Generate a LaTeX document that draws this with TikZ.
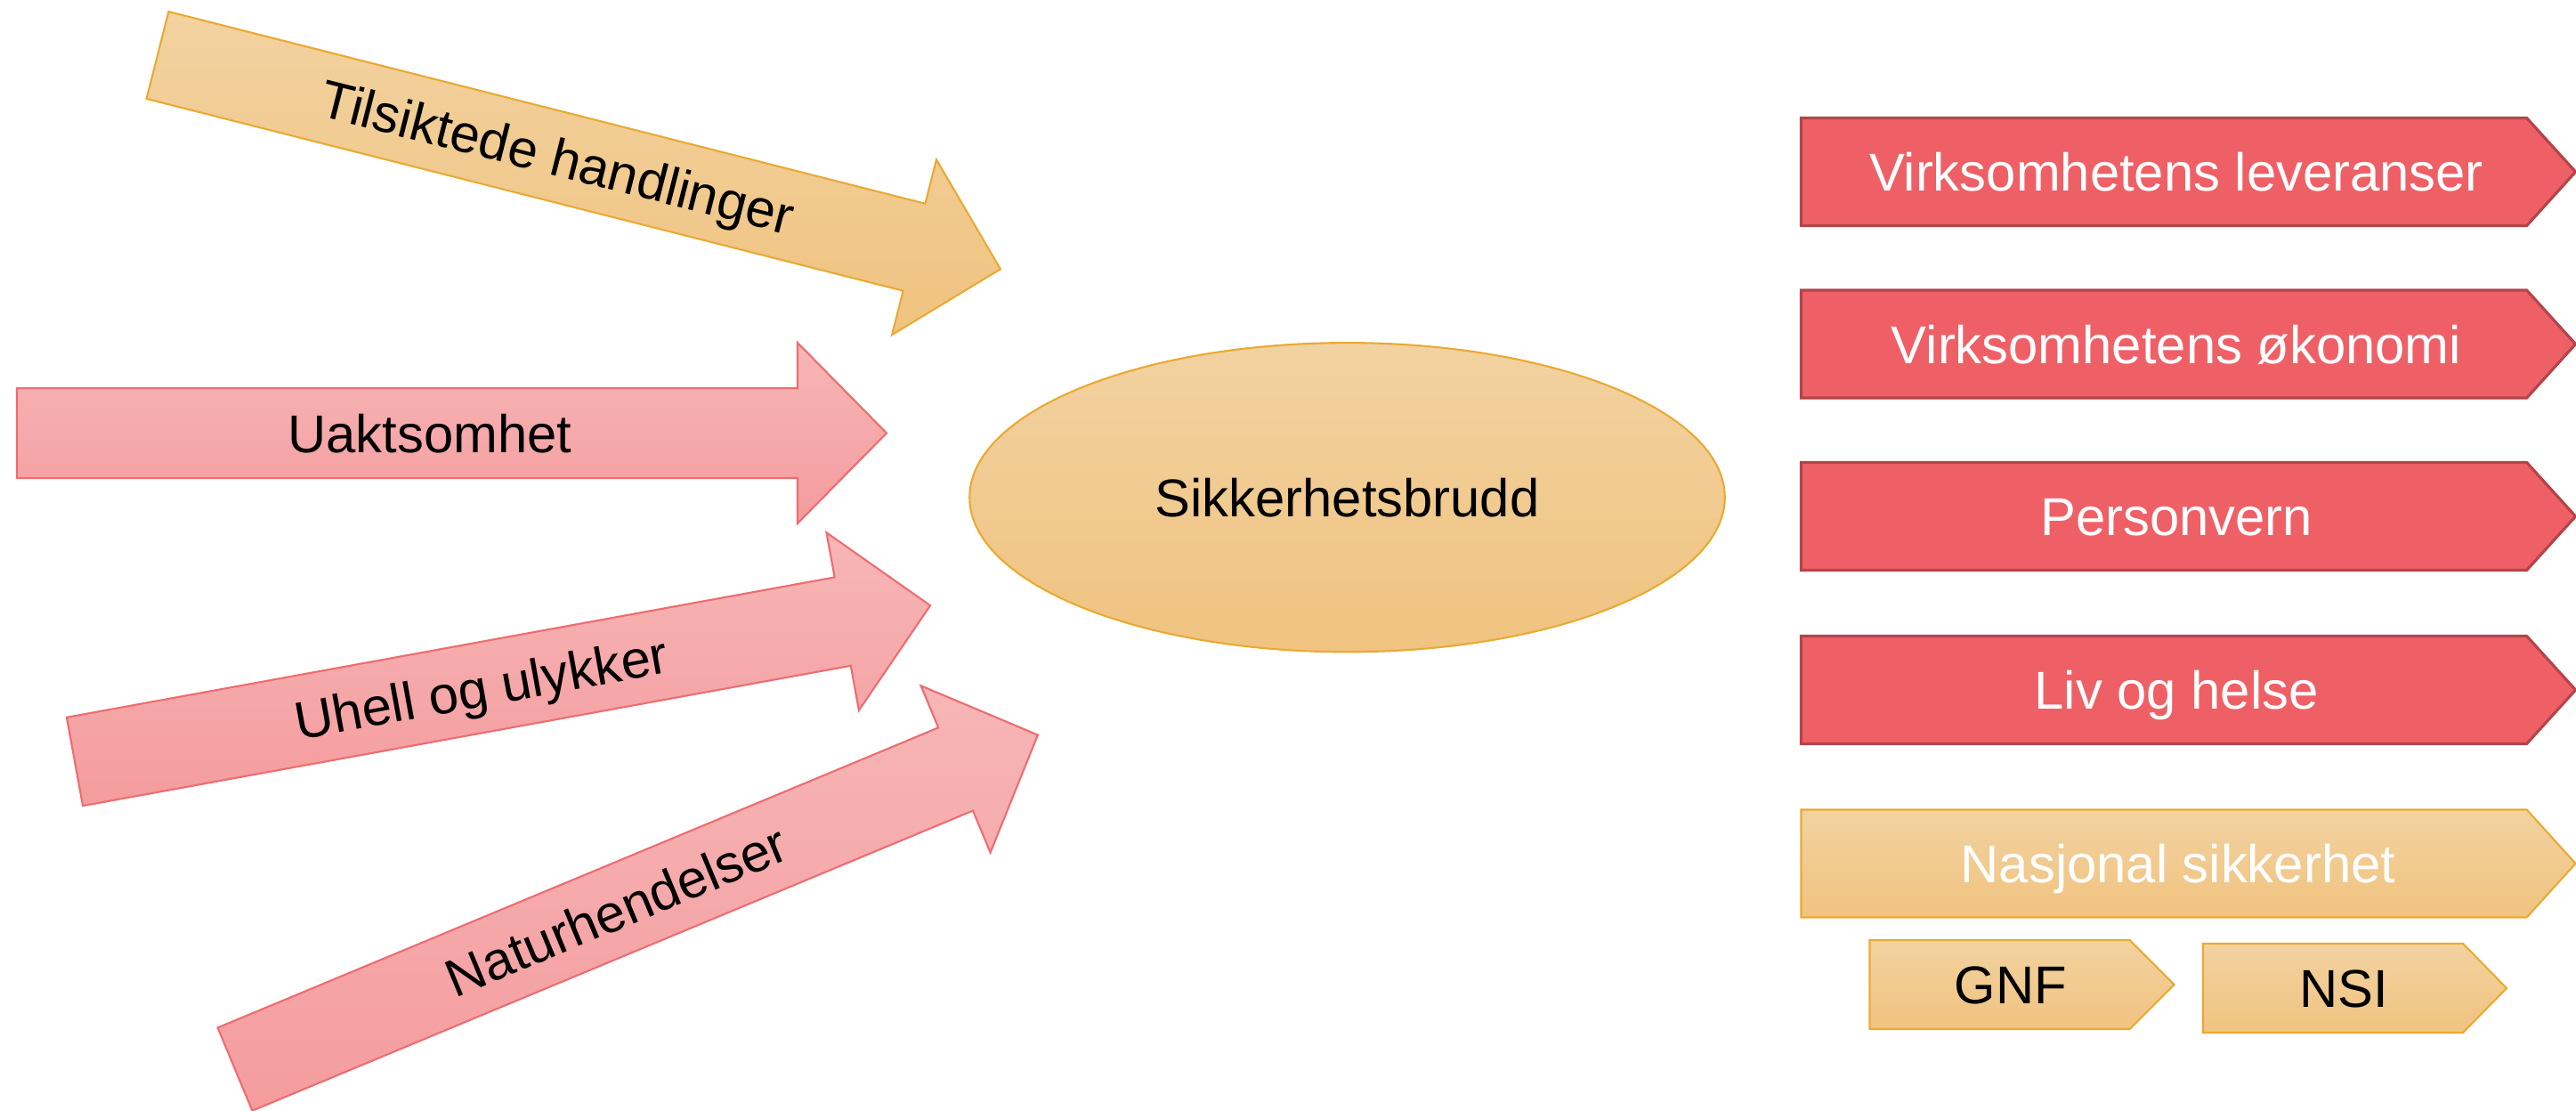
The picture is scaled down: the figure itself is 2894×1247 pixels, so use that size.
\documentclass[tikz,border=0pt]{standalone}
\usepackage{fontspec}
\setmainfont{Liberation Sans}
\usetikzlibrary{shapes.geometric}
\definecolor{oTop}{RGB}{242,210,160}
\definecolor{oBot}{RGB}{240,195,128}
\definecolor{oLine}{RGB}{233,170,50}
\definecolor{pTop}{RGB}{247,182,182}
\definecolor{pBot}{RGB}{244,156,158}
\definecolor{pLine}{RGB}{238,108,112}
\definecolor{rFill}{RGB}{239,96,102}
\definecolor{rLine}{RGB}{180,68,74}
\tikzset{
  orangefill/.style={top color=oTop, bottom color=oBot, draw=oLine, line width=0.6pt},
  pinkfill/.style={top color=pTop, bottom color=pBot, draw=pLine, line width=0.6pt},
  redfill/.style={fill=rFill, draw=rLine, line width=0.9pt},
  lbl/.style={font=\fontsize{17}{20}\selectfont, inner sep=0pt, anchor=base},
}
% name, x, y, angle, style, text
\newcommand\bigarrow[6]{%
  \begin{scope}[shift={(#2,#3)}, rotate=#4]
    \path[#5] (0,50.5) -- (877,50.5) -- (877,101.5) -- (977,0) -- (877,-101.5) -- (877,-50.5) -- (0,-50.5) -- cycle;
    \node[lbl, rotate=#4] (#1) at (464,-21.5) {#6};
  \end{scope}}
% name, style, xleft, Ytop, Ybot, xrect, xtip, textx, text
\newcommand\chevbox[9]{%
  \pgfmathsetmacro\cmid{(#4+#5)/2}
  \path[#2] (#3,#4) -- (#6,#4) -- (#7,\cmid) -- (#6,#5) -- (#3,#5) -- cycle;
  \node[lbl] (#1) at (#8,\cmid-21.5) {#9};}
\begin{document}
\begin{tikzpicture}[x=0.01cm, y=0.01cm]
\useasboundingbox (0,0) rectangle (2894,1247);

% incoming arrows
\bigarrow{tilsiktede}{177}{1185}{-14.24}{orangefill}{Tilsiktede handlinger}
\bigarrow{uaktsomhet}{19}{760.5}{0}{pinkfill}{Uaktsomhet}
\bigarrow{uhell}{84}{391.5}{10.34}{pinkfill}{Uhell og ulykker}
\bigarrow{natur}{264}{46}{22.6}{pinkfill}{Naturhendelser}

% centre
\node[ellipse, orangefill, minimum width=8.48cm, minimum height=3.47cm, inner sep=0pt,
      font=\fontsize{17}{20}\selectfont] (brudd) at (1513.5,688.3) {Sikkerhetsbrudd};

% consequences
\chevbox{leveranser}{redfill}{2023.5}{1114.5}{993.5}{2838.6}{2893.5}{2445}{\color{white}Virksomhetens leveranser}
\chevbox{okonomi}{redfill}{2023.5}{921}{800}{2838.6}{2893.5}{2445}{\color{white}Virksomhetens økonomi}
\chevbox{personvern}{redfill}{2023.5}{727.5}{606.5}{2838.6}{2893.5}{2445}{\color{white}Personvern}
\chevbox{liv}{redfill}{2023.5}{532.5}{411.5}{2838.6}{2893.5}{2445}{\color{white}Liv og helse}
\chevbox{nasjonal}{orangefill}{2023.5}{337.5}{216.5}{2838.6}{2893.5}{2447}{\color{white}Nasjonal sikkerhet}
\chevbox{gnf}{orangefill}{2100.5}{191}{91}{2392.5}{2442.5}{2259}{GNF}
\chevbox{nsi}{orangefill}{2475}{187}{87}{2767}{2816}{2633}{NSI}
\end{tikzpicture}
\end{document}
